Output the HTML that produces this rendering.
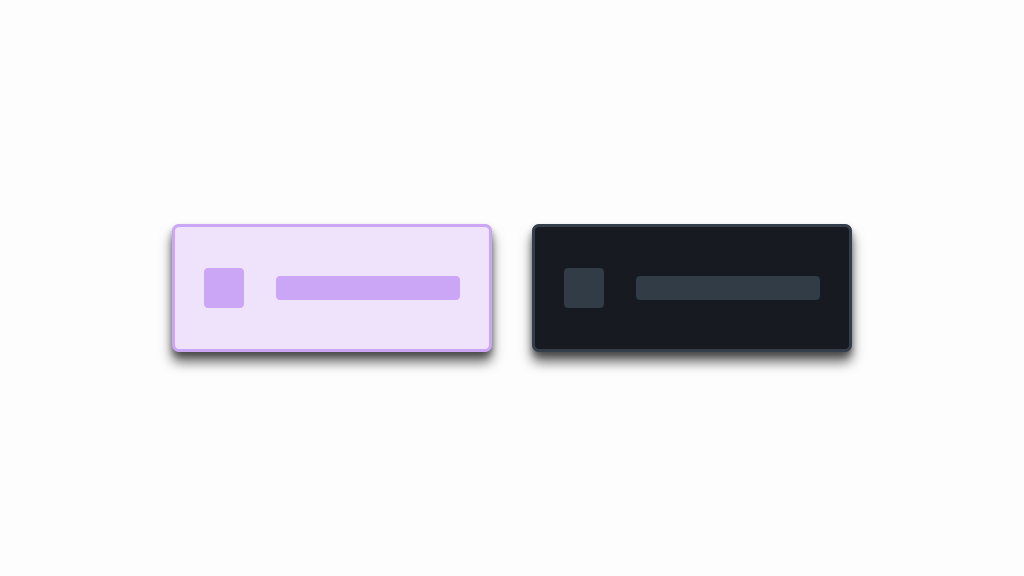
<!DOCTYPE html>
<html><head><style>
html,body{margin:0;padding:0;width:1024px;height:576px;background:#fdfdfd;overflow:hidden}
.card{position:absolute;top:224px;width:314px;height:122px;border:3px solid;border-radius:7px;box-shadow:0 10px 12px rgba(0,0,0,0.6),0 4px 6px rgba(0,0,0,0.3)}
.sq{position:absolute;left:29px;top:41px;width:40px;height:40px;border-radius:4px}
.bar{position:absolute;left:101px;top:49px;width:184px;height:24px;border-radius:4px}
</style></head><body>
<div class="card" style="left:172px;background:#efe3fc;border-color:#cba6f7">
  <div class="sq" style="background:#cba6f7"></div>
  <div class="bar" style="background:#cba6f7"></div>
</div>
<div class="card" style="left:532px;background:#171b21;border-color:#343e4a">
  <div class="sq" style="background:#313c47"></div>
  <div class="bar" style="background:#313c47"></div>
</div>
</body></html>
